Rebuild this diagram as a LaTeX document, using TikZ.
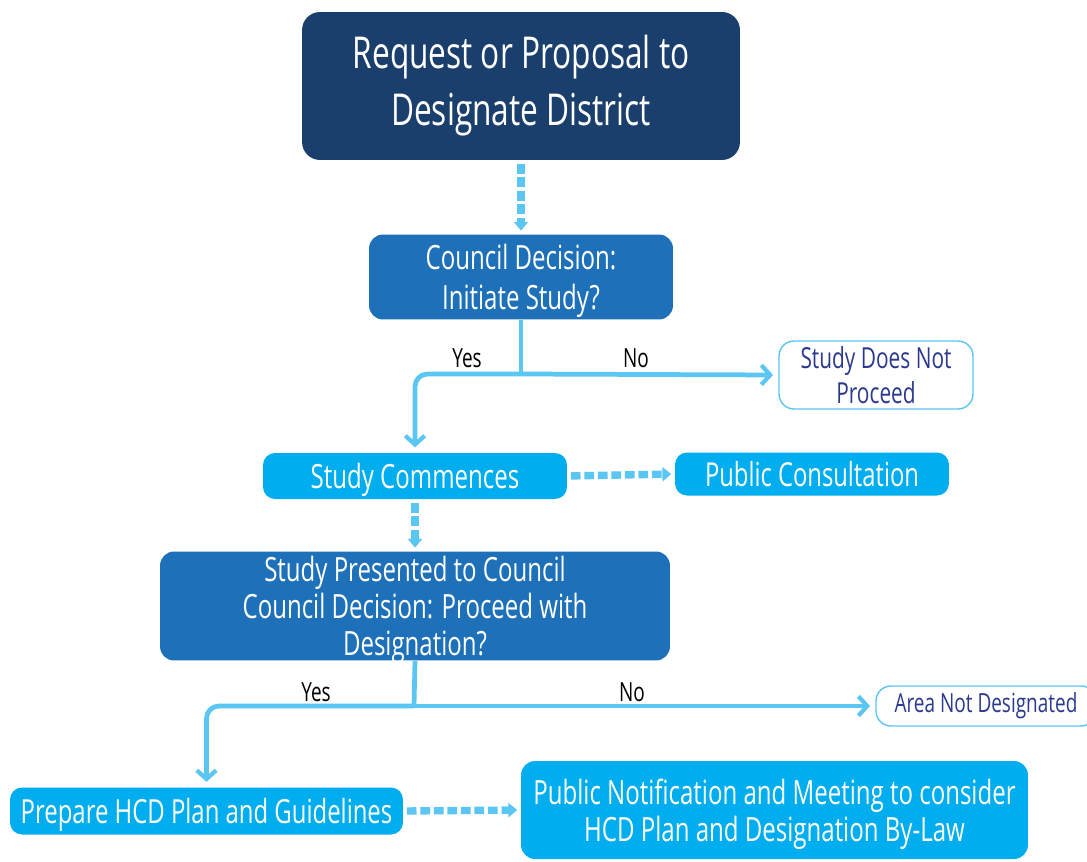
\documentclass[tikz,border=0pt]{standalone}
\usepackage{fontspec}
\setmainfont{Open Sans}[FakeStretch=0.72]
\usepackage{xcolor}
\usetikzlibrary{positioning, arrows.meta}
\definecolor{navyfill}{HTML}{1B3F6D}
\definecolor{midblue}{HTML}{1E71B8}
\definecolor{cyanfill}{HTML}{00ADEE}
\definecolor{flowblue}{HTML}{5CC6F2}
\definecolor{outtext}{HTML}{2B3A8E}

\begin{document}
\begin{tikzpicture}[
      x=0.02cm, y=-0.02cm,
      box/.style={rectangle, rounded corners=0.28cm, fill=#1, text=white, align=center, inner sep=0pt,
        text depth=0pt},
      outbox/.style={rectangle, rounded corners=0.3cm, draw=flowblue, fill=white, line width=0.8pt,
        text=outtext, align=center, inner sep=0pt},
      flow/.style={line width=2.7pt, color=flowblue, rounded corners=0.25cm},
      flowarrow/.style={flow, -{Straight Barb[length=5pt, width=11pt, line width=2.4pt]}, shorten >=3pt},
      dasharrow/.style={line width=4.2pt, color=flowblue, dash pattern=on 5.5pt off 2.2pt,
        -{Triangle[length=5pt, width=8pt]}, shorten >=2pt, shorten <=2pt},
      lab/.style={font=\fontsize{15}{17}\selectfont, text=black}
    ]
    \useasboundingbox[fill=white] (0,0) rectangle (1087,861);
    % Request and first decision
    \node[box=navyfill, rounded corners=0.36cm, minimum width=8.76cm, minimum height=2.96cm, text depth=6pt,
      font=\fontsize{25}{32.5}\selectfont] (request) at (521,86) {Request or Proposal to\\Designate District};
    \node[box=midblue, minimum width=6.08cm, minimum height=1.7cm,
      font=\fontsize{19}{22.5}\selectfont] (council) at (521,277) {Council Decision:\\Initiate Study?};
    \node[outbox, minimum width=3.88cm, minimum height=1.36cm,
      font=\fontsize{16.5}{20}\selectfont] (noproceed) at (876,375) {Study Does Not\\Proceed};
    % Study
    \node[box=cyanfill, rounded corners=0.24cm, minimum width=6.08cm, minimum height=0.92cm,
      font=\fontsize{19}{20}\selectfont] (commence) at (415,476) {Study Commences};
    \node[box=cyanfill, rounded corners=0.24cm, minimum width=5.48cm, minimum height=0.86cm,
      font=\fontsize{18.8}{20}\selectfont] (consult) at (812,474) {Public Consultation};
    \node[box=midblue, minimum width=10.2cm, minimum height=2.18cm,
      font=\fontsize{19}{21}\selectfont] (decide) at (415,606)
      {Study Presented to Council\\Council Decision: Proceed with\\Designation?};
    \draw[dasharrow] (request.south) -- (council.north);
    \coordinate (j1) at (521,374);
    \draw[flow] (council.south) -- (j1);
    \draw[flowarrow] (j1) -| (commence.north);
    \draw[flowarrow] (j1) -- (noproceed.west);
    \node[lab] at (467,358) {Yes};
    \node[lab] at (636,358) {No};
    \draw[dasharrow] (commence.east) -- (consult.west);
    \draw[dasharrow] (commence.south) -- (decide.north);
    % Designation
    \node[outbox, minimum width=4.4cm, minimum height=0.8cm,
      font=\fontsize{15}{18}\selectfont] (notdesig) at (986,706) {Area Not Designated};
    \node[box=cyanfill, rounded corners=0.24cm, minimum width=7.86cm, minimum height=0.94cm,
      font=\fontsize{18.9}{20}\selectfont] (prepare) at (206.5,811) {Prepare HCD Plan and Guidelines};
    \node[box=cyanfill, minimum width=10.14cm, minimum height=1.96cm,
      font=\fontsize{19}{21}\selectfont] (notify) at (774.5,810)
      {Public Notification and Meeting to consider\\HCD Plan and Designation By-Law};
    \coordinate (j2) at (414,706);
    \draw[flow] (decide.south) -- (j2);
    \draw[flowarrow] (j2) -| (prepare.north);
    \draw[flowarrow] (j2) -- (notdesig.west);
    \node[lab] at (316,692) {Yes};
    \node[lab] at (632,692) {No};
    \draw[dasharrow] (prepare.east) -- (notify.west);
    \end{tikzpicture}
\end{document}
